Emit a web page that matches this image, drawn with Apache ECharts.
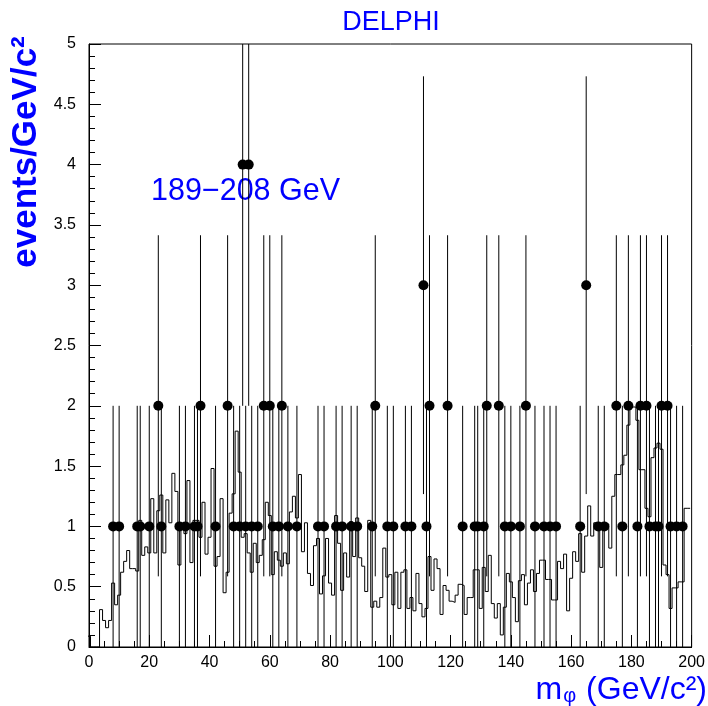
<!DOCTYPE html>
<html><head><meta charset="utf-8">
<script src="https://cdn.jsdelivr.net/npm/echarts@6/dist/echarts.min.js"></script>
<style>html,body{margin:0;padding:0;background:#fff}#c{width:708px;height:706px}</style>
</head><body><div id="c"></div>
<script>
// Histogram (expected background), 1 GeV/c^2 bins, centres 0..199
const histValues = [
  0.09, 0, 0, 0, 0.31, 0.22, 0.16, 0.22, 0.53, 0.35,
  0.43, 0.62, 0.71, 0.80, 0.65, 0.65, 0.63, 1.05, 0.76, 0.83,
  0.78, 1.23, 0.78, 1.13, 1.26, 0.78, 1.22, 1.03, 1.44, 1.29,
  0.68, 1.00, 0.94, 1.38, 0.70, 1.05, 1.05, 0.91, 1.20, 0.77,
  0.91, 1.48, 0.67, 0.75, 1.23, 0.45, 0.62, 1.11, 1.27, 1.79,
  1.45, 0.91, 0.94, 0.78, 0.62, 0.86, 0.70, 0.76, 0.89, 1.20,
  1.09, 0.60, 0.79, 0.72, 0.67, 0.78, 0.69, 1.12, 1.25, 1.07,
  1.43, 0.79, 1.03, 0.61, 0.51, 0.84, 0.90, 0.44, 0.59, 0.90,
  0.53, 0.43, 1.09, 0.86, 0.47, 0.78, 0.58, 1.04, 0.75, 1.07,
  0.74, 0.67, 0.46, 1.05, 0.33, 0.38, 0.33, 0.41, 0.82, 0.58,
  0.60, 0.35, 0.62, 0.32, 0.62, 0.64, 0.32, 0.41, 0.30, 0.61,
  0.36, 0.25, 0.32, 0.75, 0.47, 0.73, 0.65, 0.27, 0.51, 0.47,
  0.38, 0.37, 0.43, 0.52, 0.51, 0.27, 0.41, 0.41, 0.64, 0.64,
  0.32, 0.66, 0.46, 0.76, 0.36, 0.24, 0.36, 0.10, 0.33, 0.61,
  0.54, 0.41, 0.21, 0.55, 0.60, 0.35, 0.53, 0.64, 0.46, 0.61,
  0.72, 0.72, 0.56, 0.56, 0.39, 0.39, 0.71, 0.65, 0.77, 0.30,
  0.57, 0.79, 0.71, 0.94, 0.62, 0.92, 1.17, 0.92, 1.03, 1.02,
  0.66, 1.02, 1.02, 0.82, 1.25, 1.43, 1.43, 1.51, 1.59, 1.84,
  1.99, 1.99, 1.88, 1.47, 1.47, 1.15, 1.08, 1.57, 1.65, 1.69,
  1.64, 0.68, 0.60, 0.32, 0.49, 0.49, 0.54, 0.54, 1.15, 1.15
];
const histBinWidth = 1;

// Data points: bin centres (GeV/c^2) with 1, 2, 3, 4 events
const pts1 = [8,10,16,17,20,24,30,32,35,36,42,48,50,52,54,56,61,63,66,69,76,78,82,84,87,89,94,99,101,105,107,112,124,128,129,131,138,140,143,148,151,153,155,163,169,171,177,182,186,188,189,193,195,197];
const pts2 = [23,37,46,58,60,64,95,113,119,132,136,145,175,179,183,185,190,192];
const pts3 = [111,165];
const pts4 = [51,53];

const xMin = 0, xMax = 200, xInterval = 20;
const yMin = 0, yMax = 5, yInterval = 0.5;

const titleText = 'DELPHI';
const energyText = '189\u2212208 GeV';
const yTitle = 'events/GeV/c\u00B2';

// ---- build series data ----
const histData = histValues.map((v, i) => [i * histBinWidth - histBinWidth / 2, v]);
histData.push([(histValues.length - 0.5) * histBinWidth, histValues[histValues.length - 1]]);

const points = [];
[[pts1, 1], [pts2, 2], [pts3, 3], [pts4, 4]].forEach(([arr, n]) => arr.forEach(x => points.push([x, n])));
const errData = points.map(([x, n]) => [x, n - Math.sqrt(n), n + Math.sqrt(n)]);

const FONT = 'Liberation Sans, Arial, Helvetica, sans-serif';
const BLUE = '#0000ff';

const chart = echarts.init(document.getElementById('c'), null, {renderer: 'canvas'});
chart.setOption({
  animation: false,
  backgroundColor: '#fff',
  grid: {left: 89, top: 44, width: 603, height: 603, show: true, borderColor: '#000', borderWidth: 1, containLabel: false},
  xAxis: {
    type: 'value', min: xMin, max: xMax, interval: xInterval,
    axisLine: {show: true, onZero: false, lineStyle: {color: '#000', width: 1}},
    axisTick: {show: true, inside: true, length: 12, lineStyle: {color: '#000', width: 1}},
    minorTick: {show: true, splitNumber: 4, length: 6, lineStyle: {color: '#000', width: 1}},
    axisLabel: {color: '#000', fontSize: 16, margin: 8, fontFamily: FONT},
    splitLine: {show: false}
  },
  yAxis: {
    type: 'value', min: yMin, max: yMax, interval: yInterval,
    axisLine: {show: true, onZero: false, lineStyle: {color: '#000', width: 1}},
    axisTick: {show: true, inside: true, length: 12, lineStyle: {color: '#000', width: 1}},
    minorTick: {show: true, splitNumber: 5, length: 6, lineStyle: {color: '#000', width: 1}},
    axisLabel: {color: '#000', fontSize: 16, margin: 13, fontFamily: FONT},
    splitLine: {show: false}
  },
  series: [
    {
      type: 'line', data: histData, step: 'end', symbol: 'none', clip: true,
      lineStyle: {color: '#000', width: 1}, z: 2
    },
    {
      type: 'custom', data: errData, clip: true, z: 3,
      encode: {x: 0, y: [1, 2]},
      renderItem: function (params, api) {
        const x = api.value(0);
        const p1 = api.coord([x, api.value(1)]);
        const p2 = api.coord([x, api.value(2)]);
        return {type: 'line', shape: {x1: p1[0], y1: p1[1], x2: p2[0], y2: p2[1]},
                style: {stroke: '#000', lineWidth: 1}};
      }
    },
    {
      type: 'scatter', data: points, symbol: 'circle', symbolSize: 10,
      itemStyle: {color: '#000', opacity: 1}, z: 4
    }
  ],
  graphic: [
    {type: 'text', x: 391, y: 23, style: {text: titleText, align: 'center', verticalAlign: 'middle', fontSize: 27, fontFamily: FONT, fill: BLUE}},
    {type: 'text', x: 151, y: 192, style: {text: energyText, align: 'left', verticalAlign: 'middle', fontSize: 30.5, fontFamily: FONT, fill: BLUE}},
    {type: 'text', x: 26, y: 152, rotation: Math.PI / 2, style: {text: yTitle, align: 'center', verticalAlign: 'middle', fontSize: 35, fontWeight: 'bold', fontFamily: FONT, fill: BLUE}},
    {type: 'text', x: 707, y: 690, style: {
      text: '{m|m}{s|\u03C6}{m| (GeV/c\u00B2)}', align: 'right', verticalAlign: 'middle',
      rich: {
        m: {fontSize: 32, fontFamily: FONT, fill: BLUE, color: BLUE, lineHeight: 32, verticalAlign: 'middle'},
        s: {fontSize: 20, fontFamily: FONT, fill: BLUE, color: BLUE, lineHeight: 20, padding: [20, 1, 0, 1], verticalAlign: 'bottom'}
      }
    }}
  ]
});
</script>
</body></html>
